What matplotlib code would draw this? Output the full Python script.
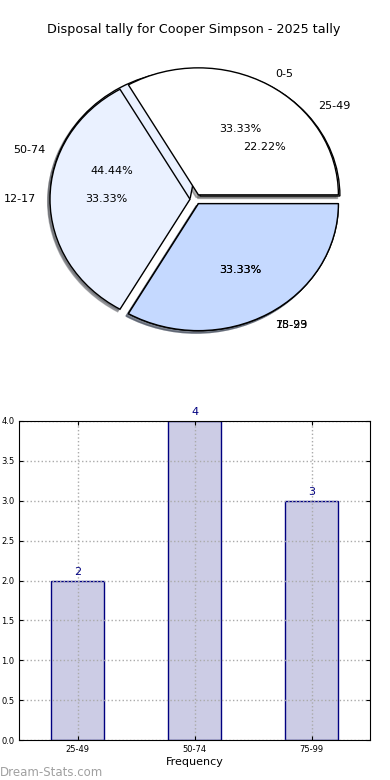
import matplotlib
matplotlib.use("Agg")
import matplotlib.pyplot as plt

# first ring of bins (games) and second ring (disposals)
pie1_labels = ['0-5', '12-17', '18-23']
pie1_values = [3, 3, 3]
pie2_labels = ['25-49', '50-74', '75-99']
pie2_values = [2, 4, 3]
pie_colors = ['#ffffff', '#eaf1ff', '#c5d9ff']

bar_labels = ['25-49', '50-74', '75-99']
bar_values = [2, 4, 3]

fig = plt.figure(figsize=(3.9, 7.8), dpi=100)

shadow = {'ox': -0.012, 'oy': -0.014, 'shade': 0.6}

# pie, drawn twice on the same axes
ax1 = fig.add_axes([20.6 / 390, 422.0 / 780, 350 / 390, 317.5 / 780])
ax1.pie(pie2_values, labels=pie2_labels, colors=pie_colors, autopct='%.2f%%',
        explode=[0.04] * 3, shadow=shadow, startangle=0,
        wedgeprops={'edgecolor': 'black', 'linewidth': 1},
        textprops={'fontsize': 8})
ax1.pie(pie1_values, labels=pie1_labels, colors=pie_colors, autopct='%.2f%%',
        explode=[0.04] * 3, shadow=shadow, startangle=0,
        wedgeprops={'edgecolor': 'black', 'linewidth': 1},
        textprops={'fontsize': 8})
ax1.set_aspect('auto')
ax1.set_xlim(-1.25, 1.25)
ax1.set_ylim(-1.25, 1.25)
fig.text(194 / 390, 1 - 30 / 780, 'Disposal tally for Cooper Simpson - 2025 tally',
         fontsize=9.2, ha='center', va='center')

# bar chart
ax2 = fig.add_axes([19.3 / 390, 40 / 780, 350.7 / 390, 319 / 780])
x = range(len(bar_values))
bars = ax2.bar(x, bar_values, width=0.45, color='#ccccE5', edgecolor='navy', linewidth=1)
for b, v in zip(bars, bar_values):
    ax2.text(b.get_x() + b.get_width() / 2, v + 0.05, str(v), ha='center', va='bottom',
             color='navy', fontsize=8)
ax2.set_xlim(-0.5, 2.5)
ax2.set_ylim(0, 4)
ax2.set_xticks(list(x))
ax2.set_xticklabels(bar_labels)
ax2.set_yticks([0.0, 0.5, 1.0, 1.5, 2.0, 2.5, 3.0, 3.5, 4.0])
ax2.set_yticklabels(['%.1f' % t for t in [0.0, 0.5, 1.0, 1.5, 2.0, 2.5, 3.0, 3.5, 4.0]])
ax2.tick_params(labelsize=6, direction='in', top=True, right=True, length=3)
ax2.grid(True, color='#aaaaaa', linestyle=':', linewidth=1)
ax2.set_axisbelow(False)
for sp in ax2.spines.values():
    sp.set_zorder(5)
ax2.set_xlabel('Frequency', fontsize=8, labelpad=2)

fig.text(0.0, 0.005, 'Dream-Stats.com', color='#a0a0a0', fontsize=8.5)

fig.savefig('out.png', dpi=100)
